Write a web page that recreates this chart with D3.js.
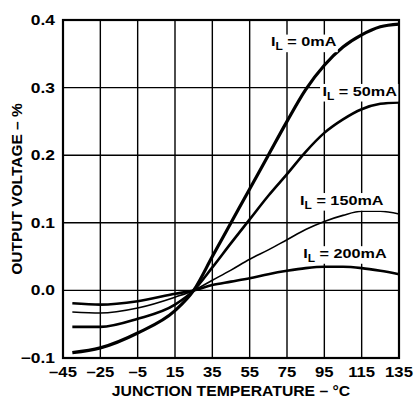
<!DOCTYPE html>
<html>
<head>
<meta charset="utf-8">
<script src="https://cdn.jsdelivr.net/npm/d3@7"></script>
<style>
body { margin: 0; background: #fff; }
text { font-family: "Liberation Sans", Arial, sans-serif; font-weight: bold; fill: #000; }
</style>
</head>
<body>
<div id="chart"></div>
<script>
// junction temperature, degC
const temps = [-40, -25, -5, 15, 25, 35, 45, 55, 65, 75, 85, 95, 105, 115, 125, 135]

// output voltage change, %
const il0 = [-0.092, -0.085, -0.063, -0.03, 0, 0.05, 0.1, 0.15, 0.2, 0.25, 0.297, 0.333, 0.36, 0.378, 0.39, 0.394]
const il50 = [-0.054, -0.054, -0.042, -0.021, 0, 0.034, 0.07, 0.105, 0.14, 0.172, 0.205, 0.233, 0.253, 0.268, 0.276, 0.278]
const il150 = [-0.032, -0.0335, -0.026, -0.01, 0, 0.015, 0.03, 0.046, 0.06, 0.075, 0.09, 0.102, 0.111, 0.117, 0.117, 0.113]
const il200 = [-0.019, -0.021, -0.016, -0.005, 0, 0.008, 0.013, 0.018, 0.024, 0.029, 0.033, 0.035, 0.035, 0.033, 0.029, 0.024]

const seriesNames = ['0mA', '50mA', '150mA', '200mA']
const seriesValues = [il0, il50, il150, il200]

const xTicks = [-45, -25, -5, 15, 35, 55, 75, 95, 115, 135]
const yTicks = [-0.1, 0, 0.1, 0.2, 0.3, 0.4]

// styling / placement
const strokeW = [3.2, 2.6, 1.6, 2.6]
const labelAt = [[66.4, 0.361], [94, 0.288], [82, 0.1266], [83.7, 0.048]]

let width = 415, height = 400
let m = { left: 63, right: 16, top: 20, bottom: 42 }

let svg = d3.select('#chart').append('svg')
.attr('width', width)
.attr('height', height)

let x = d3.scaleLinear().domain([-45, 135]).range([m.left, width - m.right])
let y = d3.scaleLinear().domain([-0.1, 0.4]).range([height - m.bottom, m.top])

// the original lettering is wide, so stretch text horizontally
const at = (px, py, sx) => 'translate(' + px + ',' + py + ') scale(' + sx + ',1)'

let grid = svg.append('g')

grid.selectAll('line.v')
.data(xTicks.slice(1, -1))
.enter()
.append('line')
.attr('x1', d => x(d)).attr('x2', d => x(d))
.attr('y1', y(-0.1)).attr('y2', y(0.4))
.style('stroke', '#000').style('stroke-width', 1.4)

grid.selectAll('line.h')
.data(yTicks.slice(1, -1))
.enter()
.append('line')
.attr('x1', x(-45)).attr('x2', x(135))
.attr('y1', d => y(d)).attr('y2', d => y(d))
.style('stroke', '#000').style('stroke-width', 1.4)

let line = d3.line()
.x((d, i) => x(temps[i]))
.y(d => y(d))
.curve(d3.curveMonotoneX)

svg.append('g').selectAll('path')
.data(seriesValues)
.enter()
.append('path')
.attr('d', line)
.style('fill', 'none')
.style('stroke', '#000')
.style('stroke-width', (d, i) => strokeW[i])
.style('stroke-linejoin', 'round')

svg.append('rect')
.attr('x', x(-45)).attr('y', y(0.4))
.attr('width', x(135) - x(-45)).attr('height', y(-0.1) - y(0.4))
.style('fill', 'none').style('stroke', '#000').style('stroke-width', 2.2)

// curve labels, white box behind
let labels = svg.append('g')
seriesNames.forEach((name, i) => {
	let g = labels.append('g')
	.attr('transform', at(x(labelAt[i][0]), y(labelAt[i][1]), 1.2))
	let t = g.append('text')
	.style('font-size', '13.5px')
	t.append('tspan').text('I')
	t.append('tspan').text('L').attr('dy', 4).style('font-size', '10px')
	t.append('tspan').text(' = ' + name).attr('dy', -4)
	let b = t.node().getBBox()
	g.insert('rect', 'text')
	.attr('x', b.x - 2).attr('y', b.y)
	.attr('width', b.width + 3).attr('height', b.height)
	.style('fill', '#fff')
})

const fmtMinus = s => s.replace('-', '\u2013')

svg.append('g').selectAll('text')
.data(xTicks)
.enter()
.append('text')
.attr('transform', d => at(x(d), height - m.bottom + 19, 1.15))
.attr('text-anchor', 'middle')
.style('font-size', '14.5px')
.text(d => fmtMinus(String(d)))

svg.append('g').selectAll('text')
.data(yTicks)
.enter()
.append('text')
.attr('transform', d => at(m.left - 8, y(d) + 5, 1.2))
.attr('text-anchor', 'end')
.style('font-size', '14.5px')
.text(d => fmtMinus(d3.format('.1f')(d)))

svg.append('text')
.attr('transform', at((x(-45) + x(135)) / 2, 396, 1.05))
.attr('text-anchor', 'middle')
.style('font-size', '15px')
.text('JUNCTION TEMPERATURE \u2013 \u00b0C')

svg.append('text')
.attr('transform', 'translate(22,' + ((y(-0.1) + y(0.4)) / 2) + ') rotate(-90)')
.attr('text-anchor', 'middle')
.style('font-size', '15.5px')
.text('OUTPUT VOLTAGE \u2013 %')
</script>
</body>
</html>
